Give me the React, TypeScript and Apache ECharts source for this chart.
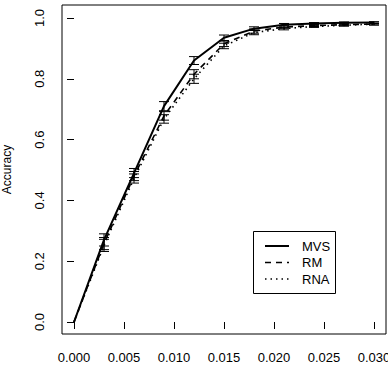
import React, { useEffect, useRef } from "react";
import * as echarts from "echarts";

const xValues = [0, 0.003, 0.006, 0.009, 0.012, 0.015, 0.018, 0.021, 0.024, 0.027, 0.03];
const mvs = [0, 0.27, 0.49, 0.71, 0.86, 0.935, 0.965, 0.978, 0.982, 0.984, 0.985];
const rm = [0, 0.258, 0.48, 0.678, 0.815, 0.915, 0.957, 0.97, 0.975, 0.978, 0.98];
const rna = [0, 0.252, 0.472, 0.668, 0.8, 0.908, 0.952, 0.965, 0.972, 0.976, 0.98];
const mvsErr = [0, 0.02, 0.015, 0.015, 0.013, 0.009, 0.006, 0.004, 0.003, 0.003, 0.003];
const rmErr = [0, 0.02, 0.015, 0.014, 0.015, 0.009, 0.007, 0.004, 0.003, 0.003, 0.003];
const rnaErr = [0, 0.02, 0.015, 0.014, 0.015, 0.009, 0.007, 0.004, 0.003, 0.003, 0.003];
const xTicks = [0, 0.005, 0.01, 0.015, 0.02, 0.025, 0.03];
const yTicks = [0, 0.2, 0.4, 0.6, 0.8, 1.0];
const seriesNames = ["MVS", "RM", "RNA"];

const FONT = "'Liberation Sans', Arial, sans-serif";

function errData(vals: number[], errs: number[]) {
  return xValues
    .map((x, i) => [x, vals[i] - errs[i], vals[i] + errs[i]])
    .filter((d, i) => i > 0);
}

function renderErr(params: any, api: any) {
  const x = api.value(0);
  const lo = api.coord([x, api.value(1)]);
  const hi = api.coord([x, api.value(2)]);
  const w = 5;
  const style = { stroke: "#000", lineWidth: 1 };
  return {
    type: "group",
    children: [
      { type: "line", shape: { x1: lo[0], y1: lo[1], x2: hi[0], y2: hi[1] }, style },
      { type: "line", shape: { x1: lo[0] - w, y1: lo[1], x2: lo[0] + w, y2: lo[1] }, style },
      { type: "line", shape: { x1: hi[0] - w, y1: hi[1], x2: hi[0] + w, y2: hi[1] }, style },
    ],
  };
}

export default function App() {
  const ref = useRef<HTMLDivElement>(null);
  useEffect(() => {
    const chart = echarts.init(ref.current!, null, { renderer: "svg" });
    const lineSeries = (name: string, vals: number[], type: any, width: number) => ({
      name,
      type: "line",
      data: xValues.map((x, i) => [x, vals[i]]),
      symbol: "none",
      lineStyle: { color: "#000", width, type },
      z: 3,
    });
    chart.setOption({
      animation: false,
      backgroundColor: "#fff",
      grid: {
        left: 62,
        top: 5,
        width: 324,
        height: 329,
        show: true,
        borderColor: "#000",
        borderWidth: 1,
        backgroundColor: "transparent",
        containLabel: false,
        outerBoundsMode: "none",
      },
      xAxis: {
        type: "value",
        min: -0.0012,
        max: 0.0312,
        axisLine: { show: false },
        splitLine: { show: false },
        axisTick: { show: true, length: 7, lineStyle: { color: "#000" }, customValues: xTicks },
        axisLabel: {
          customValues: xTicks,
          formatter: (v: number) => v.toFixed(3),
          color: "#000",
          fontSize: 13,
          fontFamily: FONT,
          margin: 17,
        },
      },
      yAxis: {
        type: "value",
        min: -12 / 304,
        max: 1 + 13 / 304,
        name: "Accuracy",
        nameLocation: "middle",
        nameGap: 49,
        nameTextStyle: { color: "#000", fontSize: 12, fontFamily: FONT },
        axisLine: { show: false },
        splitLine: { show: false },
        axisTick: { show: true, length: 7, lineStyle: { color: "#000" }, customValues: yTicks },
        axisLabel: {
          customValues: yTicks,
          formatter: (v: number) => v.toFixed(1),
          rotate: 90,
          align: "center",
          verticalAlign: "bottom",
          color: "#000",
          fontSize: 13,
          fontFamily: FONT,
          margin: 16,
        },
      },
      series: [
        lineSeries(seriesNames[0], mvs, "solid", 2),
        lineSeries(seriesNames[1], rm, [6, 5], 1.6),
        lineSeries(seriesNames[2], rna, [1.5, 4], 1.6),
        { type: "custom", renderItem: renderErr, data: errData(mvs, mvsErr), z: 4 },
        { type: "custom", renderItem: renderErr, data: errData(rm, rmErr), z: 4 },
        { type: "custom", renderItem: renderErr, data: errData(rna, rnaErr), z: 4 },
      ],
      graphic: [
        {
          type: "rect",
          shape: { x: 253.5, y: 231.5, width: 82, height: 62 },
          style: { fill: "#fff", stroke: "#000", lineWidth: 1 },
          z: 10,
        },
        { type: "line", shape: { x1: 265, y1: 246, x2: 289, y2: 246 }, style: { stroke: "#000", lineWidth: 2 }, z: 11 },
        { type: "line", shape: { x1: 265, y1: 262.5, x2: 289, y2: 262.5 }, style: { stroke: "#000", lineWidth: 1.6, lineDash: [6, 5] }, z: 11 },
        { type: "line", shape: { x1: 265, y1: 279, x2: 289, y2: 279 }, style: { stroke: "#000", lineWidth: 1.6, lineDash: [1.5, 4] }, z: 11 },
        { type: "text", x: 302, y: 246, style: { text: seriesNames[0], fill: "#000", font: `13px ${FONT}`, textVerticalAlign: "middle" }, z: 11 },
        { type: "text", x: 302, y: 262.5, style: { text: seriesNames[1], fill: "#000", font: `13px ${FONT}`, textVerticalAlign: "middle" }, z: 11 },
        { type: "text", x: 302, y: 279, style: { text: seriesNames[2], fill: "#000", font: `13px ${FONT}`, textVerticalAlign: "middle" }, z: 11 },
      ],
    });
    return () => chart.dispose();
  }, []);
  return <div ref={ref} style={{ width: 388, height: 369, position: "absolute", left: 0, top: 0 }} />;
}
